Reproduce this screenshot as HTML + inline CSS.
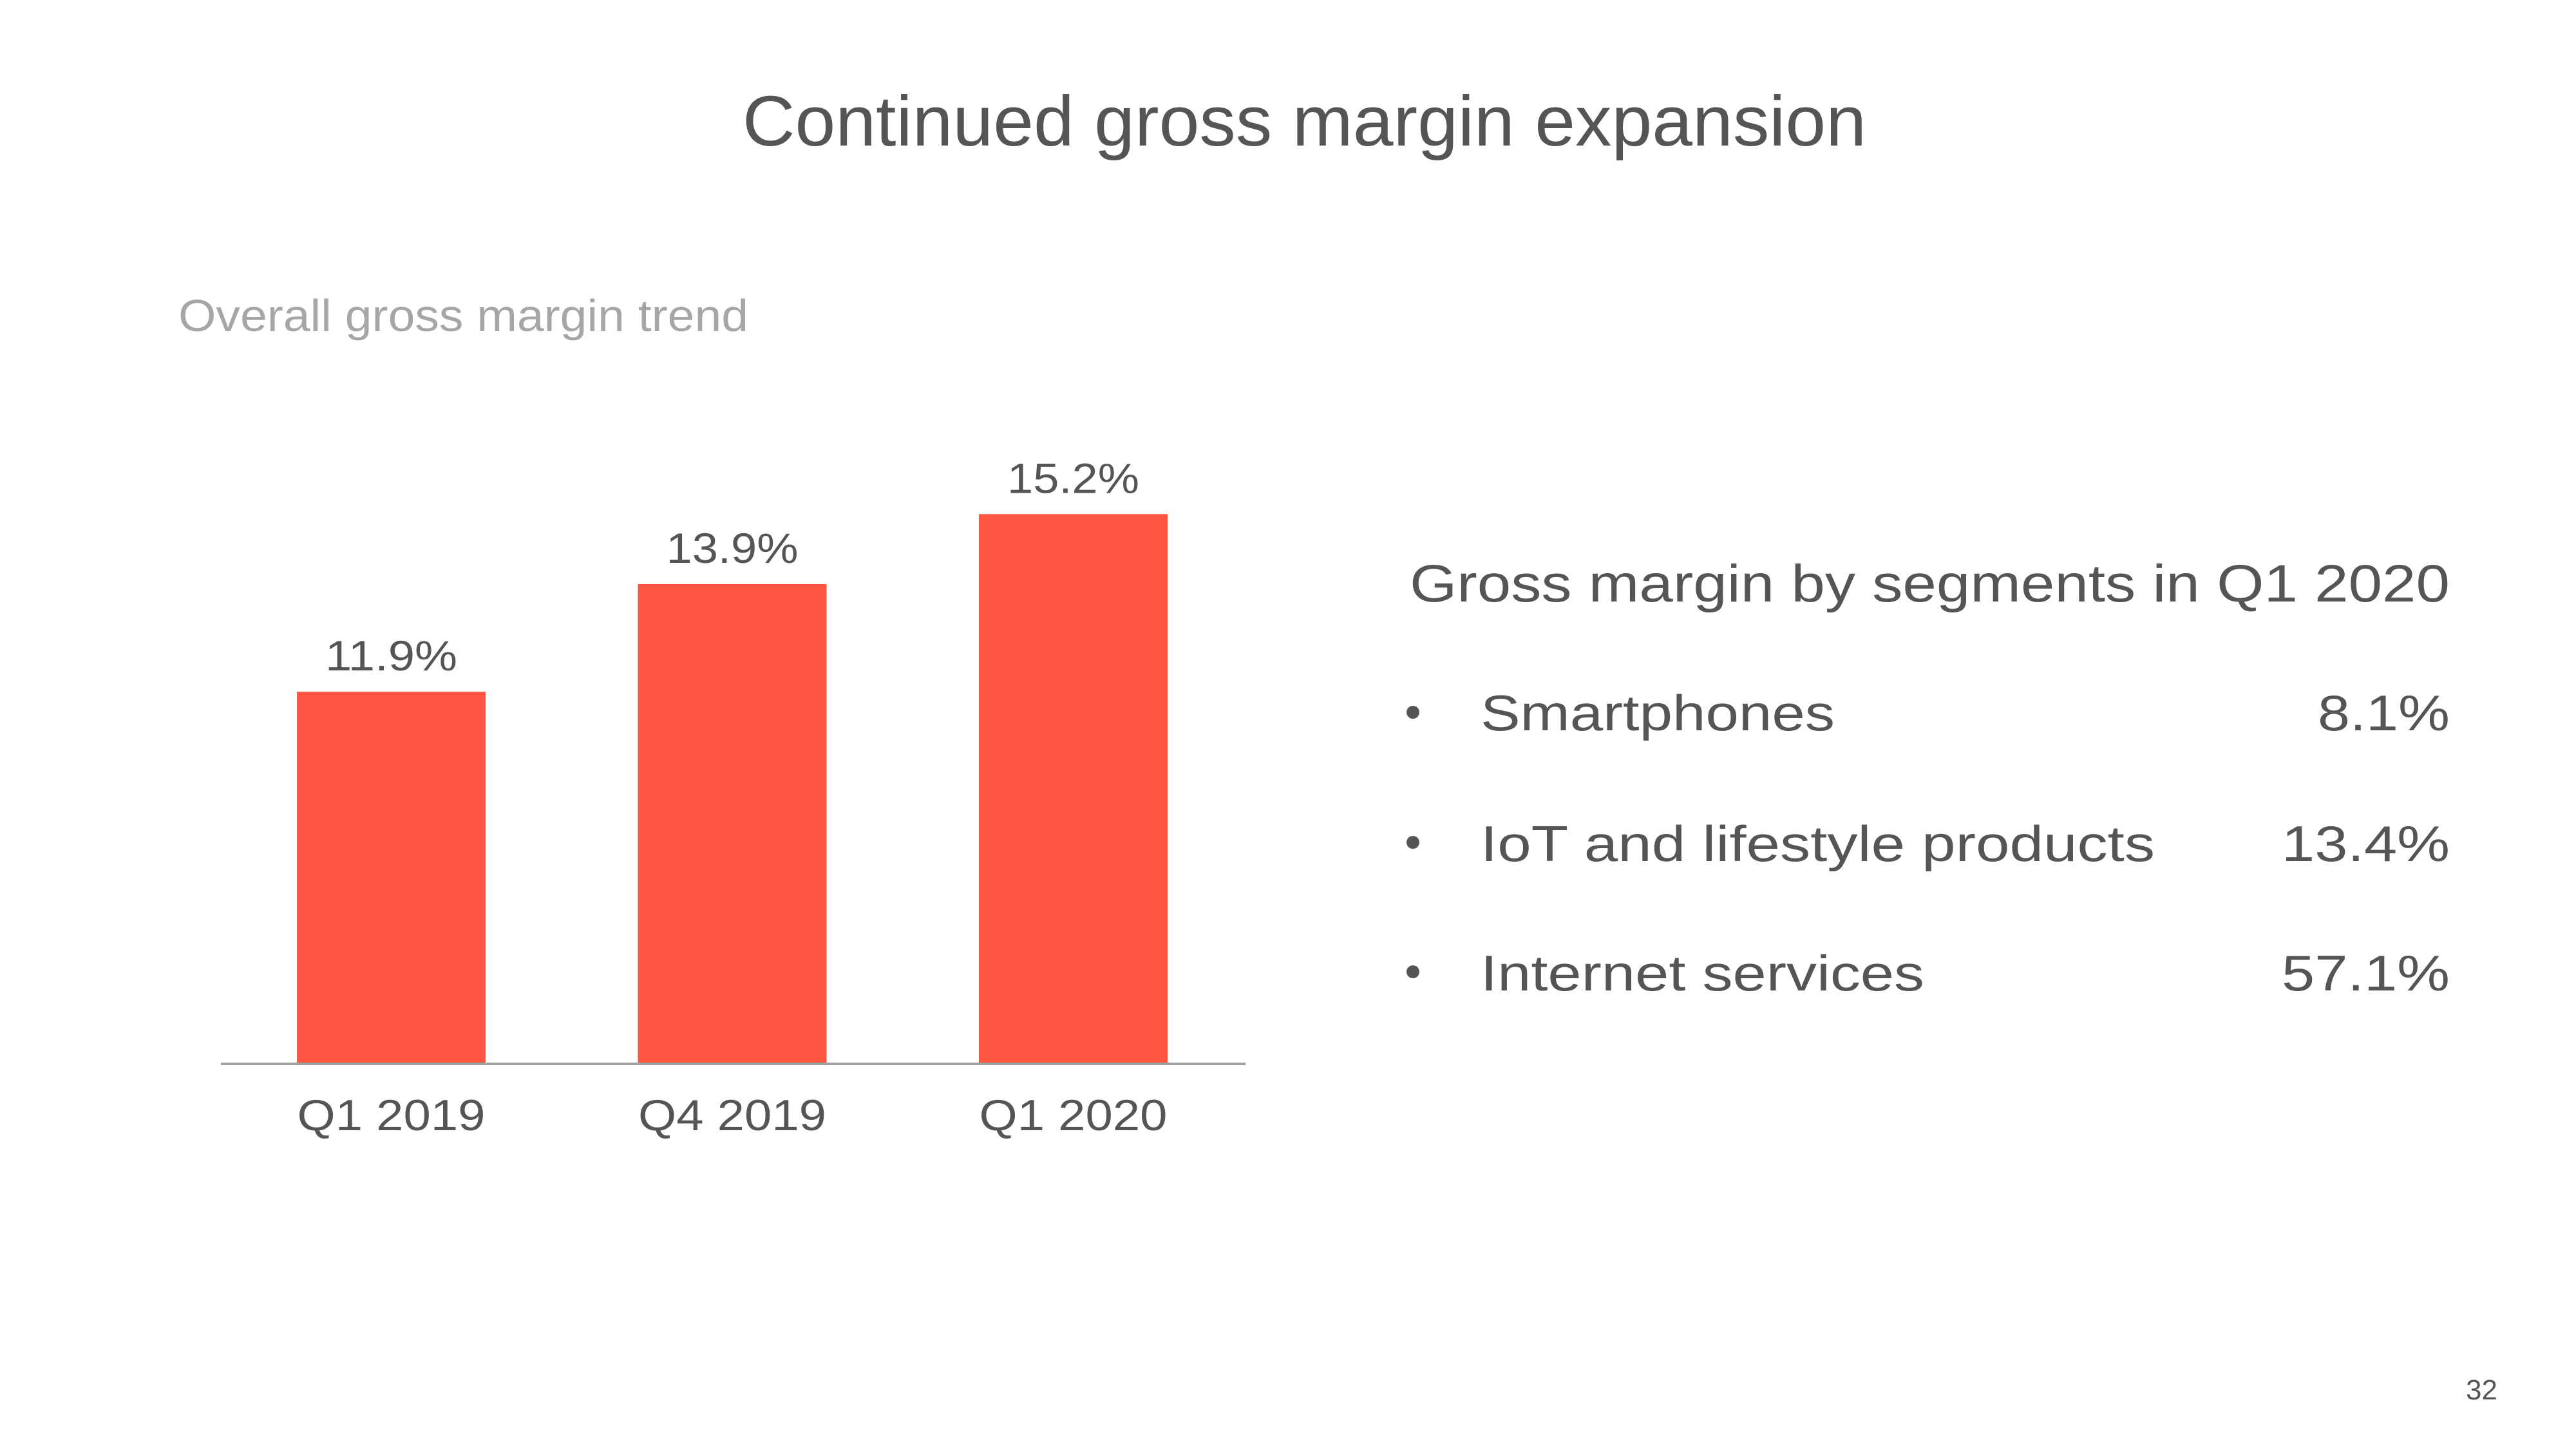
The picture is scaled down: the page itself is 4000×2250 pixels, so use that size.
<!DOCTYPE html>
<html><head><meta charset="utf-8"><style>
html,body{margin:0;padding:0;background:#fff;}
svg{display:block;font-family:"Liberation Sans",sans-serif;}
</style></head><body>
<svg id="slide" width="4000" height="2250" viewBox="0 0 4000 2250">
<text x="1153" y="226" font-size="110" fill="#555" textLength="1745" lengthAdjust="spacingAndGlyphs">Continued gross margin expansion</text>
<text x="277" y="514" font-size="70" fill="#a6a6a6" textLength="885" lengthAdjust="spacingAndGlyphs">Overall gross margin trend</text>
<g id="chart"></g>
<g>
<text x="2189" y="934" font-size="82" fill="#555" textLength="1615" lengthAdjust="spacingAndGlyphs">Gross margin by segments in Q1 2020</text>
<circle cx="2194" cy="1106" r="10" fill="#555"/>
<text x="2299" y="1134" font-size="78" fill="#555" textLength="550" lengthAdjust="spacingAndGlyphs">Smartphones</text>
<text x="3804" y="1134" font-size="78" fill="#555" text-anchor="end" textLength="205" lengthAdjust="spacingAndGlyphs">8.1%</text>
<circle cx="2194" cy="1308" r="10" fill="#555"/>
<text x="2299" y="1337" font-size="78" fill="#555" textLength="1047" lengthAdjust="spacingAndGlyphs">IoT and lifestyle products</text>
<text x="3804" y="1337" font-size="78" fill="#555" text-anchor="end" textLength="261" lengthAdjust="spacingAndGlyphs">13.4%</text>
<circle cx="2194" cy="1509" r="10" fill="#555"/>
<text x="2299" y="1538" font-size="78" fill="#555" textLength="689" lengthAdjust="spacingAndGlyphs">Internet services</text>
<text x="3804" y="1538" font-size="78" fill="#555" text-anchor="end" textLength="261" lengthAdjust="spacingAndGlyphs">57.1%</text>
</g>
<text x="3878" y="2173" font-size="44" fill="#555" text-anchor="end">32</text>
</svg>
<script>
const categories = ["Q1 2019", "Q4 2019", "Q1 2020"];
const values = [11.9, 13.9, 15.2];
const valueLabels = ["11.9%", "13.9%", "15.2%"];

const NS = "http://www.w3.org/2000/svg";
const g = document.getElementById("chart");
const baseY = 1651, yMin = 5, pxPerUnit = 83.6;
const firstX = 461, step = 529.5, barW = 293;
function yScale(v){ return baseY - (v - yMin) * pxPerUnit; }
function xScale(i){ return firstX + i * step; }

categories.forEach((c, i) => {
  const x = xScale(i), y = yScale(values[i]);
  const r = document.createElementNS(NS, "rect");
  r.setAttribute("x", x); r.setAttribute("y", y);
  r.setAttribute("width", barW); r.setAttribute("height", baseY - y);
  r.setAttribute("fill", "#ff543f");
  
  
  g.appendChild(r);

  const t = document.createElementNS(NS, "text");
  t.setAttribute("x", x + barW / 2); t.setAttribute("y", y - 33);
  t.setAttribute("text-anchor", "middle"); t.setAttribute("font-size", "66");
  t.setAttribute("fill", "#555");
  t.setAttribute("textLength", "205"); t.setAttribute("lengthAdjust", "spacingAndGlyphs");
  t.textContent = valueLabels[i];
  
  
  g.appendChild(t);

  const l = document.createElementNS(NS, "text");
  l.setAttribute("x", x + barW / 2); l.setAttribute("y", 1755);
  l.setAttribute("text-anchor", "middle"); l.setAttribute("font-size", "68");
  l.setAttribute("fill", "#555");
  l.setAttribute("textLength", "292"); l.setAttribute("lengthAdjust", "spacingAndGlyphs");
  l.textContent = c;
  
  
  g.appendChild(l);
});
const ax = document.createElementNS(NS, "line");
ax.setAttribute("x1", 343); ax.setAttribute("x2", 1934);
ax.setAttribute("y1", baseY + 1); ax.setAttribute("y2", baseY + 1);
ax.setAttribute("stroke", "#a0a0a0"); ax.setAttribute("stroke-width", "4");


g.appendChild(ax);
</script>
</body></html>
